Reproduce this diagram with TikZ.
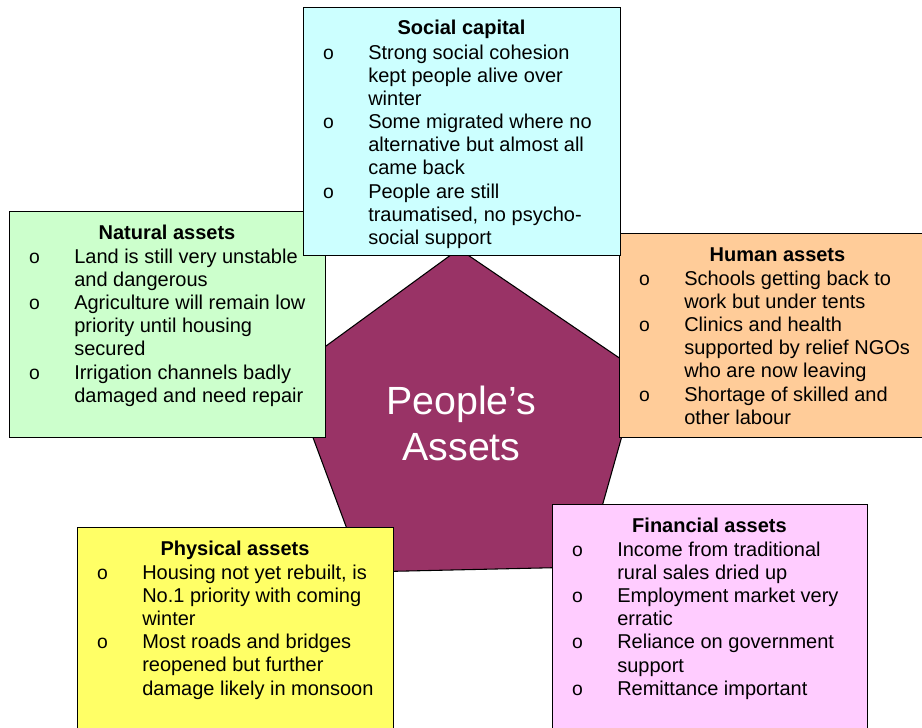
\documentclass[tikz,border=0pt]{standalone}
\usepackage{fontspec}
\setmainfont{Liberation Sans}
\definecolor{cyanbox}{HTML}{CCFFFF}
\definecolor{greenbox}{HTML}{CCFFCC}
\definecolor{orangebox}{HTML}{FFCC99}
\definecolor{yellowbox}{HTML}{FFFF66}
\definecolor{pinkbox}{HTML}{FFCCFF}
\definecolor{pentfill}{HTML}{993366}
\newcommand{\bul}{\hspace{0.6pt}{\fontsize{14.5}{14.5}\selectfont o}}
\tikzset{
  panel/.style={draw=black, line width=1.1pt, anchor=north west, inner sep=0pt},
  head/.style={anchor=base, inner sep=0pt, font=\fontsize{15}{17.4}\selectfont\bfseries},
  body/.style={anchor=base west, inner sep=0pt, font=\fontsize{15}{17.4}\selectfont},
  pent/.style={fill=pentfill, draw=black, line width=0.8pt, line join=miter},
}
\begin{document}
\begin{tikzpicture}[x=0.75pt, y=-0.75pt]
\useasboundingbox (0,0) rectangle (922,728);
\clip (0,0) rectangle (922,728);
% central pentagon
\path[pent] (459,249) -- (640,372) -- (585,567) -- (363,572) -- (289,373) -- cycle;
\node[text=white, align=center, inner sep=0pt, font=\fontsize{29.5}{34.5}\selectfont] (assets) at (461.5,423.5) {People’s\\Assets};

% Natural assets
\node[panel, fill=greenbox, minimum width=237pt, minimum height=169.5pt] (nat) at (9,211) {};
\node[head] (nath) at (167,239) {Natural assets};
\node[body] (natb) at (28,263) {\begin{tabular}[t]{@{}p{34.5pt}@{}l@{}}
\bul & Land is still very unstable\\
 & and dangerous\\
\bul & Agriculture will remain low\\
 & priority until housing\\
 & secured\\
\bul & Irrigation channels badly\\
 & damaged and need repair
\end{tabular}};

% Human assets
\node[panel, fill=orangebox, minimum width=237.75pt, minimum height=153pt] (hum) at (619,233) {};
\node[head] (humh) at (777.5,261) {Human assets};
\node[body] (humb) at (638,285) {\begin{tabular}[t]{@{}p{34.5pt}@{}l@{}}
\bul & Schools getting back to\\
 & work but under tents\\
\bul & Clinics and health\\
 & supported by relief NGOs\\
 & who are now leaving\\
\bul & Shortage of skilled and\\
 & other labour
\end{tabular}};

% Physical assets
\node[panel, fill=yellowbox, minimum width=237pt, minimum height=159.75pt] (phy) at (77,527) {};
\node[head] (phyh) at (235,555) {Physical assets};
\node[body] (phyb) at (96,579) {\begin{tabular}[t]{@{}p{34.5pt}@{}l@{}}
\bul & Housing not yet rebuilt, is\\
 & No.1 priority with coming\\
 & winter\\
\bul & Most roads and bridges\\
 & reopened but further\\
 & damage likely in monsoon
\end{tabular}};

% Financial assets
\node[panel, fill=pinkbox, minimum width=236.25pt, minimum height=177pt] (fin) at (552,504) {};
\node[head] (finh) at (709.5,532) {Financial assets};
\node[body] (finb) at (571,556) {\begin{tabular}[t]{@{}p{34.5pt}@{}l@{}}
\bul & Income from traditional\\
 & rural sales dried up\\
\bul & Employment market very\\
 & erratic\\
\bul & Reliance on government\\
 & support\\
\bul & Remittance important
\end{tabular}};

% Social capital
\node[panel, fill=cyanbox, minimum width=237.75pt, minimum height=186pt] (soc) at (303,7) {};
\node[head] (soch) at (461.5,35) {Social capital};
\node[body] (socb) at (322,59) {\begin{tabular}[t]{@{}p{34.5pt}@{}l@{}}
\bul & Strong social cohesion\\
 & kept people alive over\\
 & winter\\
\bul & Some migrated where no\\
 & alternative but almost all\\
 & came back\\
\bul & People are still\\
 & traumatised, no psycho-\\
 & social support
\end{tabular}};
\end{tikzpicture}
\end{document}
